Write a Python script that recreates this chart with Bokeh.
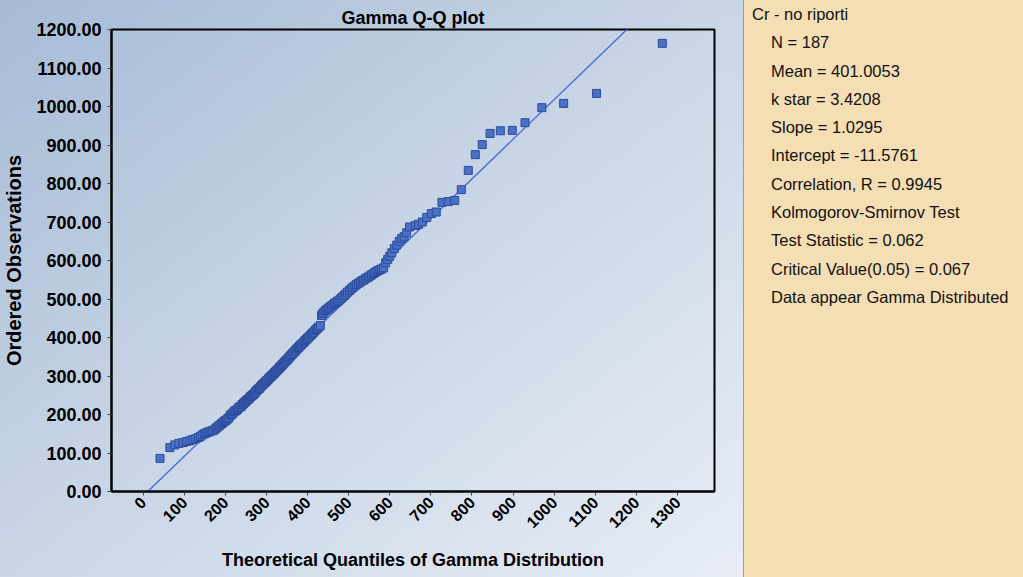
import math
from bokeh.plotting import figure
from bokeh.models import FixedTicker, NumeralTickFormatter, Div, Range1d
from bokeh.layouts import row
from bokeh.embed import file_html
from bokeh.resources import INLINE

# Theoretical gamma quantiles (x) and ordered observations (y)
theoretical = [41, 65, 77, 87, 97, 106, 114, 121, 128, 134,
               139, 144, 149, 153, 157, 161, 165, 169, 173, 177, 180, 184, 187, 191, 194, 197, 200, 203, 206, 209,
               212, 215, 218, 221, 223, 226, 229, 231, 234, 236, 239, 241, 244, 246, 249, 251, 254, 256, 259, 261,
               263, 266, 268, 271, 273, 275, 278, 280, 283, 285,
               287, 290, 292, 294, 297, 299, 301, 304, 306, 308, 311, 313, 315, 318, 320, 322, 325, 327, 330, 332,
               334, 337, 339, 342, 344, 347, 349, 352, 354, 357,
               359, 362, 364, 367, 370, 372, 375, 378, 380, 383, 386, 389, 392, 394, 397, 400, 403, 406, 409, 412,
               415, 418, 421, 424, 427, 431, 434, 437, 440, 444,
               447, 451, 454, 458, 462, 465, 469, 473, 477, 481, 485, 489, 493, 497, 502, 506, 510, 515, 519, 524,
               528, 532, 536, 540, 544, 548, 552, 556, 560, 564, 568, 572, 576, 580, 585, 590, 595, 600, 605, 611,
               617, 623, 629, 635, 641,
               648, 662, 670, 679, 690, 701, 713, 727, 742, 758, 774, 791, 808, 825, 844, 869, 898, 929, 970, 1023,
               1103, 1263]
observed = [86, 114, 121, 125, 127, 130, 132, 135, 137, 140,
            143, 147, 150, 152, 154, 155, 157, 158, 160, 164, 167, 170, 173, 176, 179, 182, 184, 186, 189, 192,
            198, 200, 203, 207, 209, 210, 213, 216, 219, 220, 222, 226, 228, 231, 233, 236, 238, 240, 243, 246,
            248, 250, 252, 255, 258, 261, 264, 266, 268, 271,
            274, 277, 279, 281, 284, 286, 288, 291, 294, 296, 299, 301, 303, 306, 309, 311, 314, 316, 319, 322,
            324, 327, 330, 333, 336, 339, 341, 344, 347, 350,
            353, 356, 359, 362, 365, 368, 371, 374, 377, 380, 383, 386, 389, 392, 395, 398, 401, 404, 408, 411,
            414, 418, 421, 424, 427, 431, 457, 462, 466, 470,
            473, 476, 479, 482, 485, 488, 491, 494, 497, 501, 505, 509, 513, 518, 522, 526, 530, 534, 538, 541,
            544, 547, 549, 552, 555, 557, 560, 563, 566, 569, 572, 574, 576, 578, 581, 594, 603, 611, 620, 631,
            640, 650, 657, 662, 672,
            687, 691, 694, 700, 712, 722, 726, 751, 753, 756, 784, 834, 875, 901, 930, 937, 938, 958, 997, 1008,
            1034, 1164]

slope = 1.0295
intercept = -11.5761

x_ticks = [0, 100, 200, 300, 400, 500, 600, 700, 800, 900, 1000, 1100, 1200, 1300]
y_ticks = [0, 100, 200, 300, 400, 500, 600, 700, 800, 900, 1000, 1100, 1200]
x_limits = [-77, 1390]
y_limits = [0, 1200]

panel_title = "Cr - no riporti"
panel_lines = ["N = 187", "Mean = 401.0053", "k star = 3.4208", "Slope = 1.0295",
               "Intercept = -11.5761", "Correlation, R = 0.9945", "Kolmogorov-Smirnov Test",
               "Test Statistic = 0.062", "Critical Value(0.05) = 0.067", "Data appear Gamma Distributed"]

FONT = "Liberation Sans"

p = figure(width=743, height=577, output_backend="svg", toolbar_location=None,
           x_range=Range1d(*x_limits), y_range=Range1d(*y_limits),
           title="Gamma Q-Q plot", margin=0,
           min_border_left=108, min_border_right=29, min_border_top=29, min_border_bottom=86)

p.background_fill_color = None
p.border_fill_color = None
p.styles = {"background": "linear-gradient(to bottom right, #a6bbd6 0%, #c9d6e6 50%, #e8edf6 100%)"}

p.outline_line_color = "black"
p.outline_line_width = 2
p.grid.visible = False

p.title.text_font = FONT
p.title.text_font_size = "18px"
p.title.text_font_style = "bold"
p.title.text_color = "black"
p.title.align = "center"
p.title.vertical_align = "top"
p.title.standoff = 0

for ax in (p.xaxis[0], p.yaxis[0]):
    ax.axis_line_color = "black"
    ax.axis_line_width = 2
    ax.major_tick_line_color = "#444444"
    ax.major_tick_in = 0
    ax.major_tick_out = 4
    ax.minor_tick_line_color = None
    ax.major_label_text_font = FONT
    ax.major_label_text_font_style = "bold"
    ax.major_label_text_color = "black"
    ax.axis_label_text_font = FONT
    ax.axis_label_text_font_style = "bold"
    ax.axis_label_text_color = "black"

p.xaxis.ticker = FixedTicker(ticks=x_ticks)
p.xaxis.major_label_orientation = math.pi / 4
p.xaxis.major_label_text_font_size = "16px"
p.xaxis.major_label_standoff = 4
p.xaxis.axis_label = "Theoretical Quantiles of Gamma Distribution"
p.xaxis.axis_label_text_font_size = "18px"
p.xaxis.axis_label_standoff = 14

p.yaxis.ticker = FixedTicker(ticks=y_ticks)
p.yaxis.formatter = NumeralTickFormatter(format="0.00")
p.yaxis.major_label_text_font_size = "18px"
p.yaxis.major_label_standoff = 6
p.yaxis.axis_label = "Ordered Observations"
p.yaxis.axis_label_text_font_size = "20px"
p.yaxis.axis_label_standoff = 8

# fitted line y = slope * x + intercept over the x range (clipped by the frame)
line_x = x_limits
line_y = [slope * v + intercept for v in line_x]
p.line(line_x, line_y, line_color="#4a6ad8", line_width=1.4)

p.scatter(theoretical, observed, marker="square", size=8,
          fill_color="#4b70c6", line_color="#2c4c9c", line_width=1)

lines_html = ['<div style="padding-left:8px">%s</div>' % panel_title]
lines_html += ['<div style="padding-left:27px">%s</div>' % t for t in panel_lines]
html = ('<div style="font-family:\'Liberation Sans\',Arial,sans-serif;font-size:16.5px;color:#111;'
        'line-height:28.3px;white-space:nowrap;">' + "".join(lines_html) + '</div>')

panel = Div(text=html, width=280, height=577, margin=0,
            styles={"background-color": "#f5deb4", "border-left": "1px solid #9c9c9c",
                    "box-sizing": "border-box", "overflow": "hidden"})

layout = row(p, panel, spacing=0)

open("out.html", "w").write(file_html(layout, INLINE))
